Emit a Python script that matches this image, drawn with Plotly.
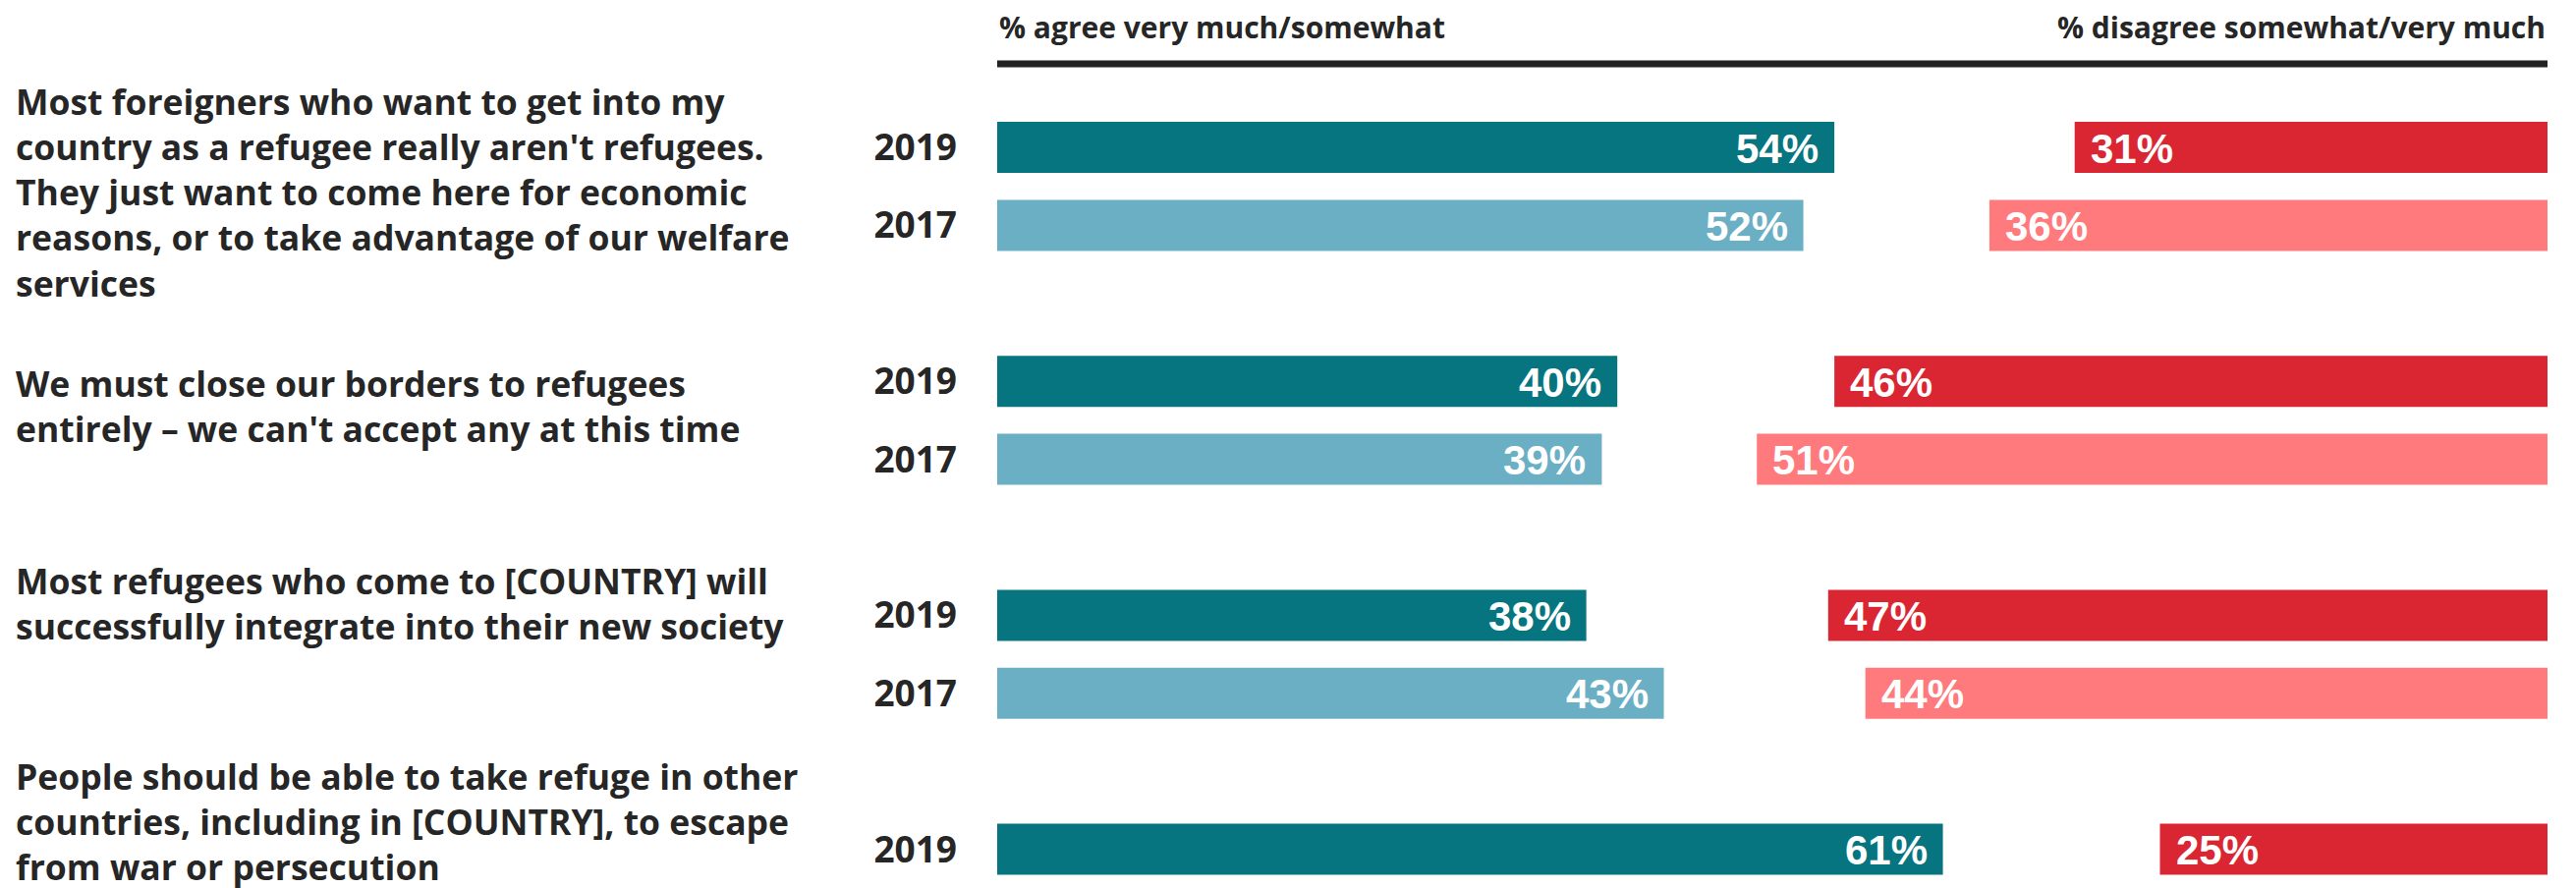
import plotly.graph_objects as go

# ---- data ----
questions = [
    "Most foreigners who want to get into my<br>country as a refugee really aren't refugees.<br>They just want to come here for economic<br>reasons, or to take advantage of our welfare<br>services",
    "We must close our borders to refugees<br>entirely – we can't accept any at this time",
    "Most refugees who come to [COUNTRY] will<br>successfully integrate into their new society",
    "People should be able to take refuge in other<br>countries, including in [COUNTRY], to escape<br>from war or persecution",
]
years = ["2019", "2017"]
agree_2019 = [54, 40, 38, 61]
agree_2017 = [52, 39, 43, None]
# bar lengths as drawn (unrounded) and the printed labels
disagree_2019 = [30.5, 46, 46.4, 25]
disagree_2017 = [36, 51, 44, None]
disagree_2019_labels = ["31%", "46%", "47%", "25%"]
disagree_2017_labels = ["36%", "51%", "44%", None]
header_left = "% agree very much/somewhat"
header_right = "% disagree somewhat/very much"

# ---- styling ----
C_AG19 = "#077580"
C_AG17 = "#6BAFC5"
C_DI19 = "#DA2632"
C_DI17 = "#FF7A7D"
TXT = "#262626"
FONT = "Open Sans"
W, H = 2622, 904
OFF = 8  # page body margin

L = 1015 - OFF
PW = 1578
top, bottom = 100 - OFF, OFF
ph = H - top - bottom

# slot layout: each question uses 3 slots (2019, 2017, gap)
y19 = [3 * i for i in range(len(questions))]
y17 = [3 * i + 1 for i in range(len(questions))]
q_center = [0.57, 3.31, 5.85, 8.64]

fig = go.Figure()
bw = 0.655


def add_side(vals, labels, ys, color, agree):
    xs, yy, bases, tx = [], [], [], []
    for v, lab, y in zip(vals, labels, ys):
        if v is None:
            continue
        xs.append(v)
        yy.append(y)
        tx.append(lab)
        bases.append(0 if agree else 100 - v)
    fig.add_trace(go.Bar(x=xs, y=yy, base=bases, orientation="h", width=bw,
                         marker=dict(color=color, line=dict(width=0)),
                         hoverinfo="skip", showlegend=False))
    for v, y, t in zip(xs, yy, tx):
        fig.add_annotation(
            x=v if agree else 100 - v, y=y, xref="x", yref="y",
            text=f"<b>{t}</b>", showarrow=False,
            xanchor="right" if agree else "left", yanchor="middle",
            xshift=-14 if agree else 14, yshift=-1,
            font=dict(family="Liberation Sans, Arial", size=42, color="white"))


add_side(agree_2019, [f"{v}%" for v in agree_2019], y19, C_AG19, True)
add_side(agree_2017, [None if v is None else f"{v}%" for v in agree_2017], y17, C_AG17, True)
add_side(disagree_2019, disagree_2019_labels, y19, C_DI19, False)
add_side(disagree_2017, disagree_2017_labels, y17, C_DI17, False)

# year tick labels
tickvals, ticktext = [], []
for i in range(len(questions)):
    tickvals.append(y19[i]); ticktext.append(f"<b>{years[0]}</b>")
    if agree_2017[i] is not None:
        tickvals.append(y17[i]); ticktext.append(f"<b>{years[1]}</b>")

# question labels
for q, yc in zip(questions, q_center):
    fig.add_annotation(x=(14 - OFF - L) / PW, xref="paper", y=yc, yref="y", text=f"<b>{q}</b>",
                       showarrow=False, xanchor="left", yanchor="middle", align="left",
                       font=dict(family=FONT, size=35.5, color=TXT))


def py(s):
    return (H - bottom - (s - OFF)) / ph


fig.add_shape(type="line", xref="x", yref="paper", x0=0, x1=100, y0=py(65), y1=py(65),
              line=dict(color="#222222", width=7))
fig.add_annotation(x=0, xref="x", y=py(28), yref="paper", text=f"<b>{header_left}</b>",
                   showarrow=False, xanchor="left", yanchor="middle",
                   font=dict(family=FONT, size=30, color=TXT))
fig.add_annotation(x=100, xref="x", y=py(28), yref="paper", text=f"<b>{header_right}</b>",
                   showarrow=False, xanchor="right", yanchor="middle",
                   font=dict(family=FONT, size=30, color=TXT))

fig.update_layout(
    width=W, height=H,
    margin=dict(l=L, r=W - L - PW, t=top, b=bottom),
    plot_bgcolor="white", paper_bgcolor="white",
    barmode="overlay",
    xaxis=dict(range=[0, 100], visible=False, fixedrange=True),
    yaxis=dict(range=[(904 - 150) / 79.4, (100 - 150) / 79.4], tickvals=tickvals,
               ticktext=ticktext, showgrid=False, zeroline=False, showline=False,
               ticks="", ticklabelstandoff=40,
               tickfont=dict(family=FONT, size=37, color=TXT)),
)

fig.write_html("out.html")
